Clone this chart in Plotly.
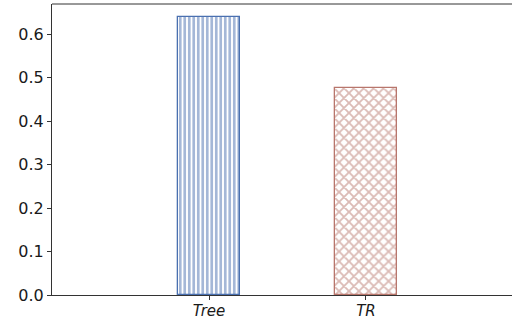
import plotly.graph_objects as go

categories = ["Tree", "TR"]
values = [0.638, 0.476]
tick_labels = ["<i>Tree</i>", "<i>TR</i>"]
colors = ["#4a70b0", "#b8766c"]
patterns = ["|", "x"]

fig = go.Figure()
for i, (c, v) in enumerate(zip(categories, values)):
    fig.add_trace(go.Bar(
        x=[i], y=[v], width=0.4,
        marker=dict(
            color="white",
            line=dict(color=colors[i], width=1.3),
            pattern=dict(shape=patterns[i], fgcolor=colors[i], bgcolor="white",
                         size=4.5 if patterns[i] == "|" else 7,
                         solidity=0.6 if patterns[i] == "|" else 0.45),
        ),
        showlegend=False,
    ))

fig.add_shape(type="line", xref="paper", yref="paper", x0=0, x1=1, y0=1, y1=1,
              line=dict(color="#333", width=1))

fig.update_layout(
    width=512, height=320,
    margin=dict(l=52, r=0, t=4, b=25),
    plot_bgcolor="white", paper_bgcolor="white",
    font=dict(family="DejaVu Sans", size=16, color="#1a1a1a"),
    bargap=0,
)
fig.update_xaxes(
    range=[-1, 1.93], tickmode="array", tickvals=[0, 1], ticktext=tick_labels,
    tickfont=dict(size=15), ticklabelstandoff=-2,
    showline=True, linecolor="#333", linewidth=1, automargin=False,
    ticks="outside", ticklen=4, tickcolor="#333", showgrid=False, zeroline=False,
)
fig.update_yaxes(
    range=[0, 0.669], tickvals=[0, 0.1, 0.2, 0.3, 0.4, 0.5, 0.6],
    tickformat=".1f", automargin=False,
    showline=True, linecolor="#333", linewidth=1,
    ticks="outside", ticklen=4, tickcolor="#333", showgrid=False, zeroline=False,
)
fig.write_html("out.html")
